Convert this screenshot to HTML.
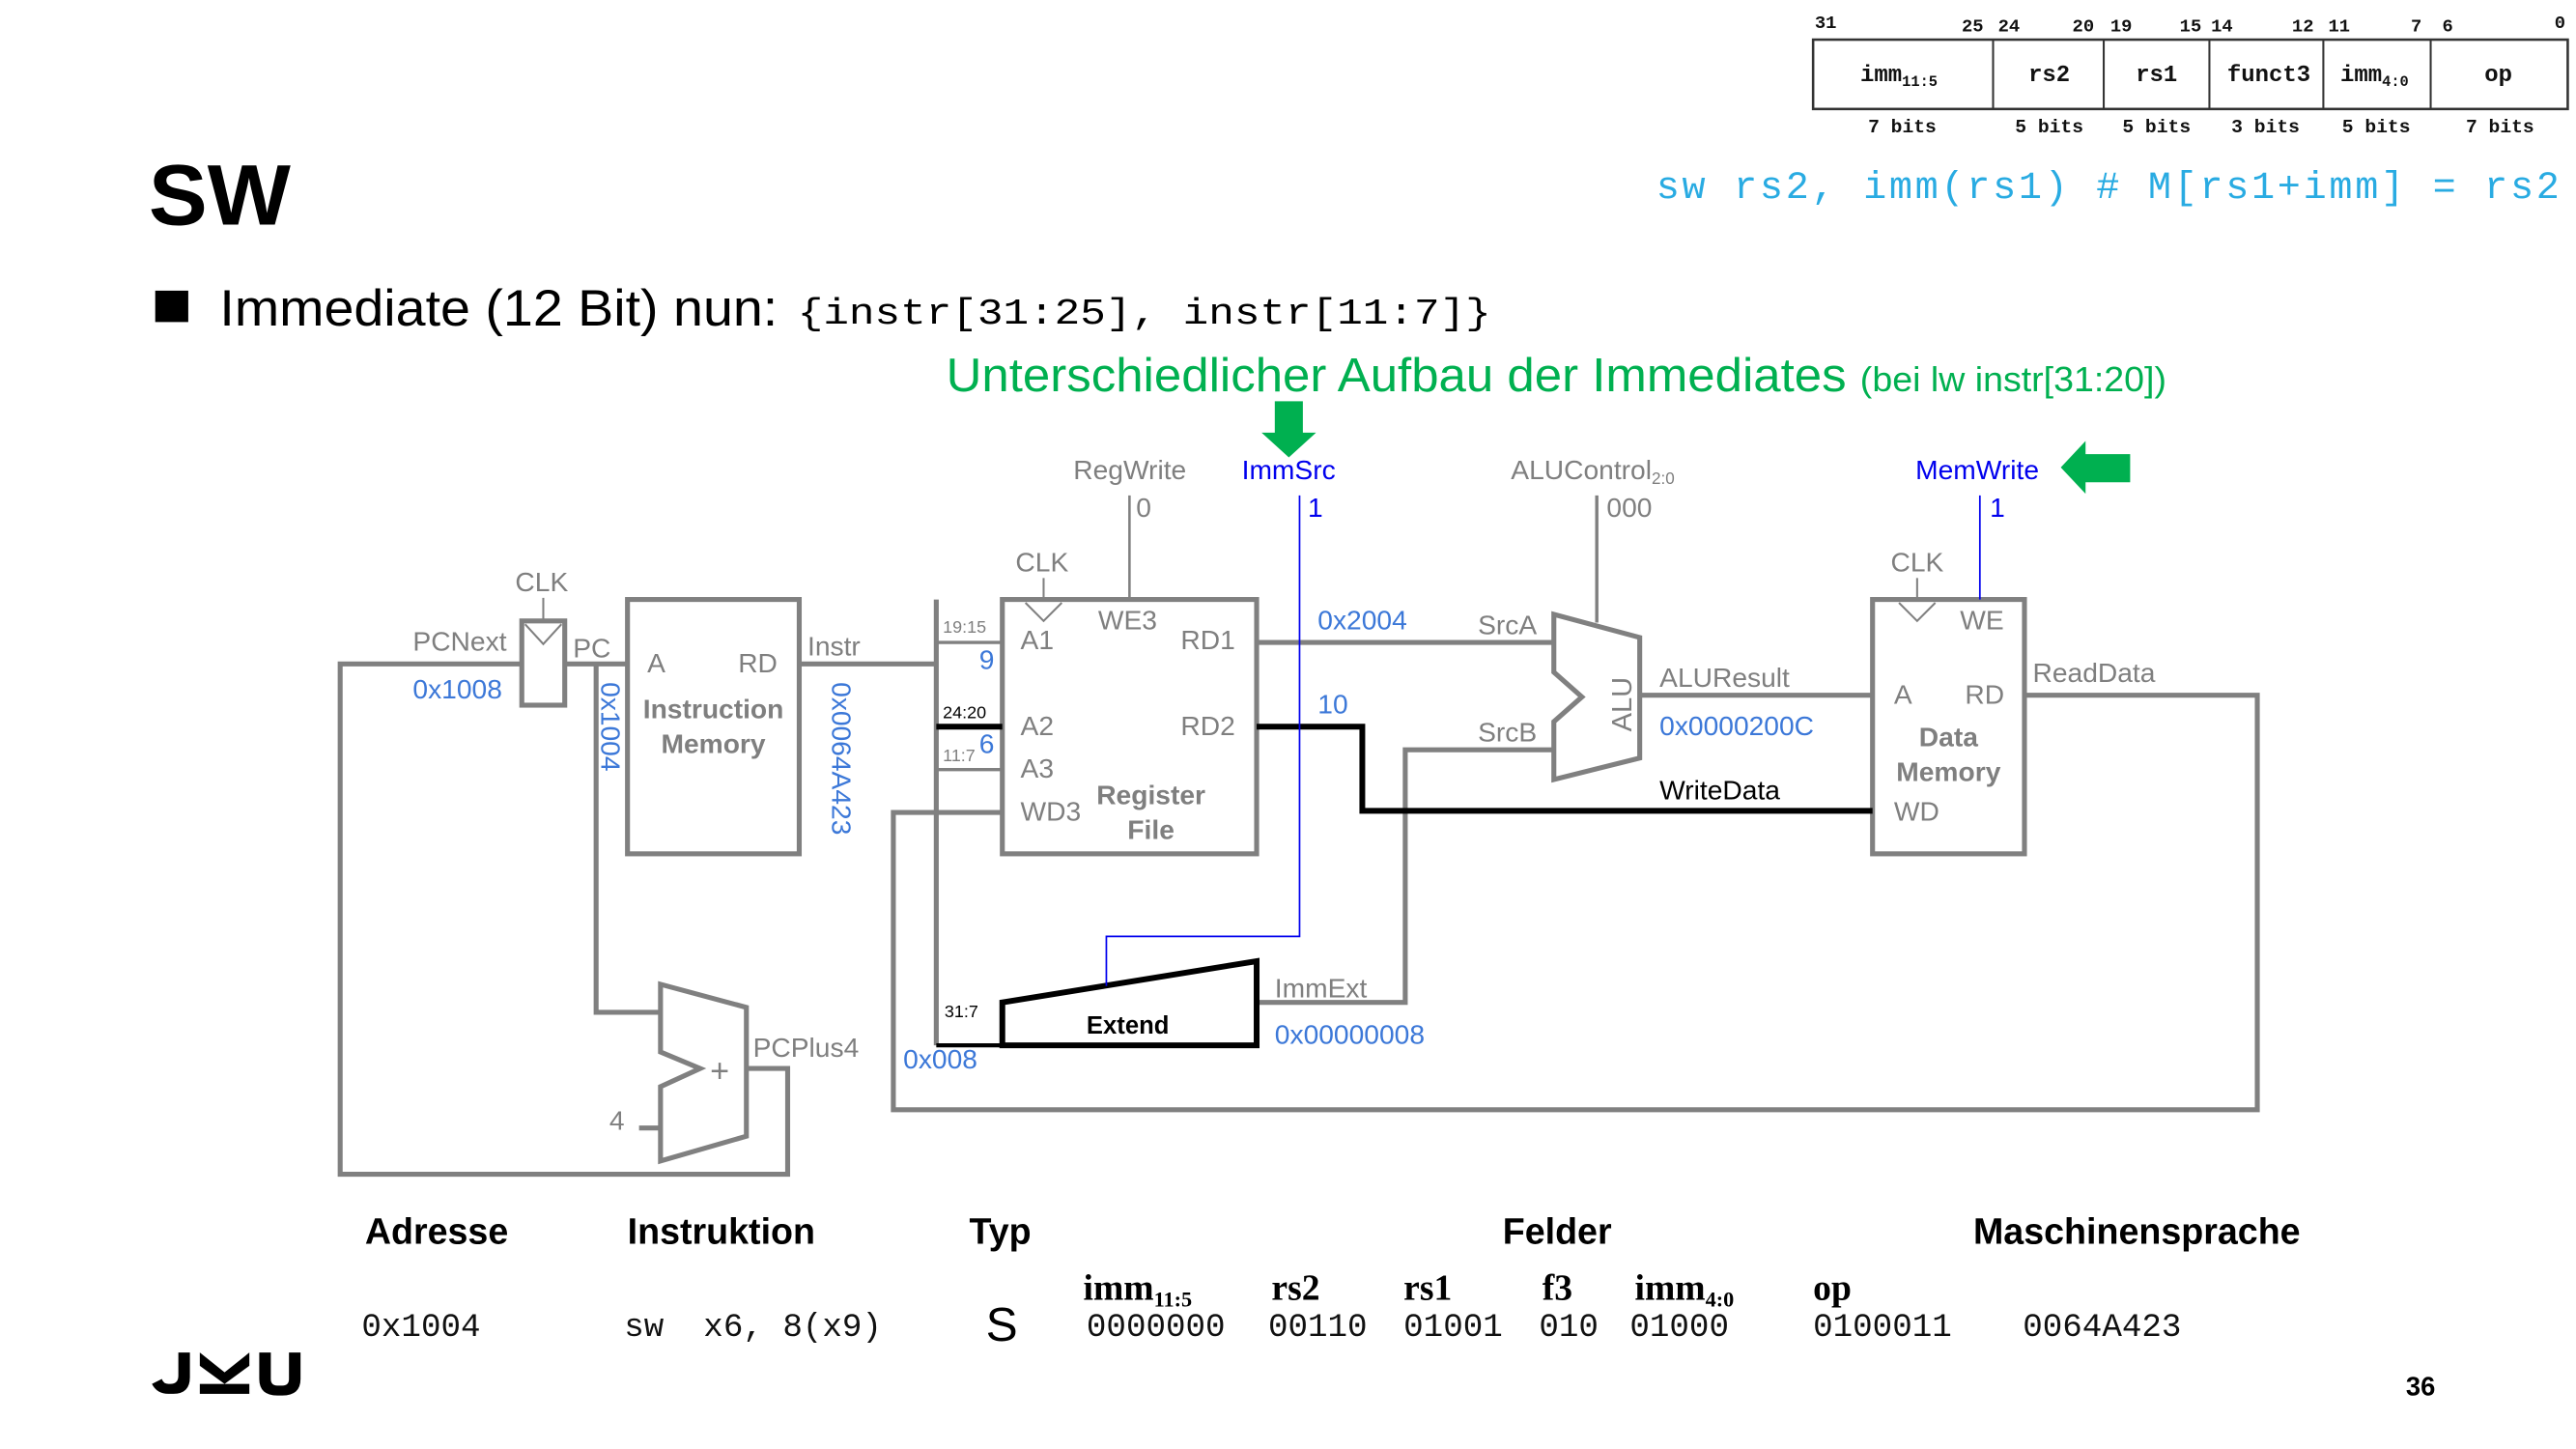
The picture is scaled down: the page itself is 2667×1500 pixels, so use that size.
<!DOCTYPE html>
<html><head><meta charset="utf-8"><style>
html,body{margin:0;padding:0;background:#fff;}
svg{display:block;}
text{font-family:"Liberation Sans",sans-serif;}
text.m,.m text{font-family:"Liberation Mono",monospace;}
.s text{font-family:"Liberation Serif",serif;}
.g{fill:#7f7f7f;}
.b{fill:#3c78d8;}
.w{stroke:#808080;stroke-width:3;fill:none;}
</style></head><body>
<svg width="2667" height="1500" viewBox="0 0 1560 877.4" xmlns="http://www.w3.org/2000/svg">
<!-- format table -->
<rect x="1098" y="24" width="457" height="42" fill="none" stroke="#333" stroke-width="1.5"/>
<g stroke="#333" stroke-width="1.2"><line x1="1207" y1="24" x2="1207" y2="66"/><line x1="1274" y1="24" x2="1274" y2="66"/><line x1="1338" y1="24" x2="1338" y2="66"/><line x1="1407" y1="24" x2="1407" y2="66"/><line x1="1472" y1="24" x2="1472" y2="66"/></g>
<g font-size="11" font-weight="bold" class="m" fill="#111">
<text x="1099" y="17">31</text><text x="1188" y="19">25</text><text x="1210" y="19">24</text><text x="1255" y="19">20</text><text x="1278" y="19">19</text><text x="1320" y="19">15</text><text x="1339" y="19">14</text><text x="1388" y="19">12</text><text x="1410" y="19">11</text><text x="1460" y="19">7</text><text x="1479" y="19">6</text><text x="1547" y="17">0</text>
</g>
<g font-size="14" font-weight="bold" class="m" fill="#111" text-anchor="middle">
<text x="1150" y="49">imm<tspan font-size="9" dy="3">11:5</tspan></text>
<text x="1241" y="49">rs2</text><text x="1306" y="49">rs1</text><text x="1374" y="49">funct3</text>
<text x="1438" y="49">imm<tspan font-size="9" dy="3">4:0</tspan></text><text x="1513" y="49">op</text>
</g>
<g font-size="11.5" class="m" fill="#111" text-anchor="middle" font-weight="bold">
<text x="1152" y="80">7 bits</text><text x="1241" y="80">5 bits</text><text x="1306" y="80">5 bits</text><text x="1372" y="80">3 bits</text><text x="1439" y="80">5 bits</text><text x="1514" y="80">7 bits</text>
</g>
<text x="1003" y="120" class="m" font-size="23.5" fill="#29abe2" textLength="547" lengthAdjust="spacing">sw rs2, imm(rs1) # M[rs1+imm] = rs2</text>

<text x="90" y="136" font-size="52" font-weight="bold" fill="#000" textLength="86" lengthAdjust="spacingAndGlyphs">SW</text>
<rect x="94" y="176" width="20" height="19" fill="#000"/>
<text x="133" y="197" font-size="31" fill="#000" textLength="338" lengthAdjust="spacingAndGlyphs">Immediate (12 Bit) nun:</text>
<text x="483" y="196" class="m" font-size="22" fill="#000" textLength="420" lengthAdjust="spacingAndGlyphs">{instr[31:25], instr[11:7]}</text>
<text x="573" y="237" font-size="28.5" fill="#00b050" textLength="739" lengthAdjust="spacingAndGlyphs">Unterschiedlicher Aufbau der Immediates <tspan font-size="21">(bei lw instr[31:20])</tspan></text>
<path d="M772 243H789V262H797L780.5 277L764 262H772Z" fill="#00b050"/>
<path d="M1248 283L1263 267V275H1290V292H1263V299Z" fill="#00b050"/>

<!-- diagram wires -->
<g class="w">
<polyline points="316,402 206,402 206,711 477,711 477,647 452,647"/>
<line x1="342" y1="402" x2="380" y2="402"/>
<polyline points="361,402 361,613 400,613"/>
<line x1="387" y1="683" x2="400" y2="683"/>
<line x1="484" y1="402" x2="567" y2="402"/>
<line x1="567" y1="363" x2="567" y2="633"/>
<line x1="567" y1="389" x2="607" y2="389" stroke-width="2"/>
<line x1="567" y1="466" x2="607" y2="466" stroke-width="2"/>
<polyline points="607,492 541,492 541,672 1367,672 1367,421 1226,421"/>
<line x1="761" y1="389" x2="941" y2="389"/>
<polyline points="761,607 851,607 851,454 941,454"/>
<line x1="993" y1="421" x2="1134" y2="421"/>
<line x1="684" y1="300" x2="684" y2="363" stroke-width="1.5"/>
<line x1="967" y1="300" x2="967" y2="377" stroke-width="2"/>
<line x1="329" y1="362" x2="329" y2="376" stroke-width="1.2"/>
<line x1="632" y1="350" x2="632" y2="363" stroke-width="1.2"/>
<line x1="1161" y1="350" x2="1161" y2="363" stroke-width="1.2"/>
<rect x="316" y="376" width="26" height="51"/>
<rect x="380" y="363" width="104" height="154"/>
<rect x="607" y="363" width="154" height="154"/>
<rect x="1134" y="363" width="92" height="154"/>
<polygon points="941,372 993,386 993,459 941,472 941,437 958,422 941,407"/>
<polygon points="400,596 452,610 452,688 400,703 400,658 424,647 400,637"/>
</g>
<g stroke="#808080" stroke-width="1.2" fill="none">
<polyline points="318,378 329,390 340,378"/><polyline points="621,365 632,376 643,365"/><polyline points="1150,365 1161,376 1172,365"/>
</g>
<g stroke="#000" stroke-width="3.5" fill="none">
<line x1="567" y1="440" x2="607" y2="440"/>
<polyline points="761,440 825,440 825,491 1134,491"/>
<line x1="567" y1="633" x2="607" y2="633" stroke-width="2.5"/>
<polygon points="607,607 761,582 761,633 607,633"/>
</g>
<g stroke="#0000ee" stroke-width="1" fill="none">
<polyline points="787,300 787,567 670,567 670,597"/>
<line x1="1199" y1="300" x2="1199" y2="363"/>
</g>

<!-- labels -->
<g font-size="16.5" class="g">
<text x="312" y="358">CLK</text><text x="250" y="394">PCNext</text><text x="347" y="398">PC</text>
<text x="392" y="407">A</text><text x="447" y="407">RD</text><text x="489" y="397">Instr</text>
<text x="615" y="346">CLK</text><text x="665" y="381">WE3</text><text x="618" y="393">A1</text><text x="715" y="393">RD1</text>
<text x="618" y="445">A2</text><text x="715" y="445">RD2</text><text x="618" y="471">A3</text><text x="618" y="497">WD3</text>
<text x="650" y="290">RegWrite</text><text x="688" y="313">0</text>
<text x="915" y="290">ALUControl<tspan font-size="10" dy="3">2:0</tspan></text><text x="973" y="313">000</text>
<text x="895" y="384">SrcA</text><text x="895" y="449">SrcB</text><text x="1005" y="416">ALUResult</text>
<text x="1145" y="346">CLK</text><text x="1187" y="381">WE</text><text x="1147" y="426">A</text><text x="1190" y="426">RD</text><text x="1147" y="497">WD</text>
<text x="1231" y="413">ReadData</text><text x="772" y="604">ImmExt</text><text x="456" y="640">PCPlus4</text><text x="369" y="684">4</text>
<text x="430" y="655" font-size="20">+</text>
<text transform="translate(988,443) rotate(-90)" font-size="17">ALU</text>
</g>
<g font-size="10.5" class="g"><text x="571" y="383">19:15</text><text x="571" y="461">11:7</text></g>
<g font-size="10.5" fill="#000"><text x="571" y="435">24:20</text><text x="572" y="616">31:7</text></g>
<g font-size="16.5" font-weight="bold" class="g" text-anchor="middle">
<text x="432" y="435">Instruction</text><text x="432" y="456">Memory</text>
<text x="697" y="487">Register</text><text x="697" y="508">File</text>
<text x="1180" y="452">Data</text><text x="1180" y="473">Memory</text>
</g>
<text x="683" y="626" font-size="15" font-weight="bold" text-anchor="middle" fill="#000">Extend</text>
<text x="1005" y="484" font-size="16.5" fill="#000">WriteData</text>
<g font-size="16.5" class="b">
<text x="250" y="423">0x1008</text><text x="593" y="405">9</text><text x="593" y="456">6</text>
<text x="798" y="381">0x2004</text><text x="798" y="432">10</text><text x="1005" y="445">0x0000200C</text>
<text x="772" y="632">0x00000008</text><text x="547" y="647">0x008</text>
<text transform="translate(364,413) rotate(90)">0x1004</text>
<text transform="translate(504,413) rotate(90)">0x0064A423</text>
</g>
<g font-size="16.5" fill="#0000ee">
<text x="752" y="290">ImmSrc</text><text x="792" y="313">1</text>
<text x="1160" y="290">MemWrite</text><text x="1205" y="313">1</text>
</g>

<!-- bottom table -->
<g font-size="22" font-weight="bold" fill="#000">
<text x="221" y="753">Adresse</text><text x="380" y="753">Instruktion</text><text x="587" y="753">Typ</text>
<text x="910" y="753">Felder</text><text x="1195" y="753">Maschinensprache</text>
</g>
<g class="s" font-size="22" font-weight="bold" fill="#000">
<text x="656" y="787">imm<tspan font-size="13" dy="4">11:5</tspan></text><text x="770" y="787">rs2</text><text x="850" y="787">rs1</text>
<text x="934" y="787">f3</text><text x="990" y="787">imm<tspan font-size="13" dy="4">4:0</tspan></text><text x="1098" y="787">op</text>
</g>
<g class="m" font-size="20" fill="#111">
<text x="219" y="809">0x1004</text><text x="378" y="809" xml:space="preserve">sw  x6, 8(x9)</text>
<text x="658" y="809">0000000</text><text x="768" y="809">00110</text><text x="850" y="809">01001</text>
<text x="932" y="809">010</text><text x="987" y="809">01000</text><text x="1098" y="809">0100011</text><text x="1225" y="809">0064A423</text>
</g>
<text x="597" y="812" font-size="29" fill="#000">S</text>

<!-- JKU logo -->
<g fill="#000">
<path d="M108 819h7v15q0 10-10 10h-3q-7 0-10-6l6-3q1 3 4 3h1q5 0 5-5z"/>
<path d="M121 819l15 12l15-12v8l-15 11l-15-11z"/>
<rect x="121" y="838" width="30" height="6"/>
<path d="M157 819h7v16q0 4 4 4h3q4 0 4-4v-16h7v16q0 10-11 10h-3q-11 0-11-10z"/>
</g>
<text x="1457" y="845" font-size="16" font-weight="bold" fill="#000">36</text>
</svg>
</body></html>
